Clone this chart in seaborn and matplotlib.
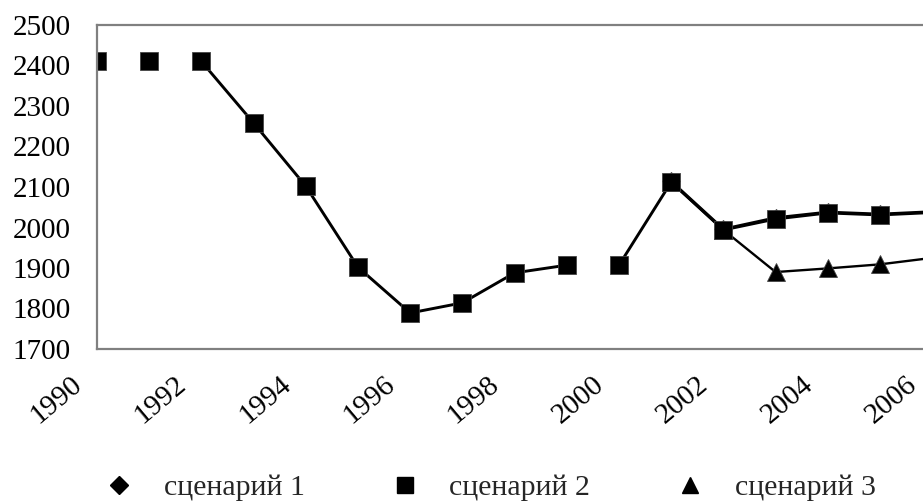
import matplotlib.pyplot as plt
import numpy as np
import pandas as pd
import seaborn as sns
from matplotlib.lines import Line2D
from matplotlib.transforms import ScaledTranslation

# values
years = list(range(1990, 2007))
scenario_2 = [2410, 2410, 2410, 2258, 2102, 1902, 1789, 1814, 1888, 1907,
              1907, 2112, 1994, 2021, 2036, 2031, 2037]
segments_2 = ["a", "b", "c", "c", "c", "c", "c", "c", "c", "c",
              "d", "d", "d", "d", "d", "d", "d"]

years_fc = list(range(2001, 2007))
scenario_1 = [2114, 1996, 2024, 2038, 2033, 2039]
scenario_3 = [2112, 1994, 1890, 1899, 1909, 1925]

labels = ["сценарий 1", "сценарий 2", "сценарий 3"]
x_ticks = list(range(1990, 2007, 2))
y_ticks = list(range(1700, 2501, 100))


def build_frame() -> pd.DataFrame:
    parts = [
        pd.DataFrame({"year": years_fc, "value": scenario_1,
                      "scenario": labels[0], "segment": "d"}),
        pd.DataFrame({"year": years, "value": scenario_2,
                      "scenario": labels[1], "segment": segments_2}),
        pd.DataFrame({"year": years_fc, "value": scenario_3,
                      "scenario": labels[2], "segment": "d"}),
    ]
    return pd.concat(parts, ignore_index=True)


def main() -> None:
    sns.set_style("white")
    plt.rcParams["font.family"] = ["Liberation Serif", "DejaVu Serif"]

    df = build_frame()

    fig = plt.figure(figsize=(9.23, 5.04), dpi=100)
    ax = fig.add_axes([97 / 923, 155 / 504, 17 * 52.2 / 923, 324 / 504])

    styles = {
        labels[2]: dict(marker="^", markersize=13, linewidth=1.7),
        labels[0]: dict(marker="D", markersize=9.5, linewidth=2.1),
        labels[1]: dict(marker="s", markersize=12.5, linewidth=2.1),
    }
    for name, style in styles.items():
        sns.lineplot(
            data=df[df["scenario"] == name],
            x="year",
            y="value",
            units="segment",
            estimator=None,
            color="black",
            markeredgecolor="#444444",
            markeredgewidth=0.6,
            ax=ax,
            **style,
        )

    ax.set_xlim(1990, 2007)
    ax.set_ylim(1700, 2500)
    ax.set_xticks(x_ticks)
    ax.set_yticks(y_ticks)
    ax.set_xlabel("")
    ax.set_ylabel("")
    ax.tick_params(axis="both", length=0, labelsize=21, colors="black")
    ax.tick_params(axis="y", pad=19)
    ax.tick_params(axis="x", pad=16)
    shift = ScaledTranslation(-10 / 100, 0, fig.dpi_scale_trans)
    for label in ax.get_xticklabels():
        label.set_rotation(40)
        label.set_ha("right")
        label.set_va("top")
        label.set_transform(label.get_transform() + shift)

    for side in ["left", "bottom", "top", "right"]:
        ax.spines[side].set_color("#808080")
        ax.spines[side].set_linewidth(1.6)

    handles = [
        Line2D([], [], linestyle="none", marker="D", markersize=9, color="black"),
        Line2D([], [], linestyle="none", marker="s", markersize=11, color="black"),
        Line2D([], [], linestyle="none", marker="^", markersize=12, color="black"),
    ]
    fig.legend(
        handles,
        labels,
        loc="center left",
        bbox_to_anchor=(104 / 923, 1 - 488 / 504),
        ncol=3,
        frameon=False,
        fontsize=21.5,
        handlelength=1.0,
        handletextpad=1.0,
        columnspacing=2.85,
        borderpad=0,
        borderaxespad=0,
    )

    fig.savefig("out.png", dpi=100)
    plt.close(fig)


if __name__ == "__main__":
    np.random.seed(0)
    main()
